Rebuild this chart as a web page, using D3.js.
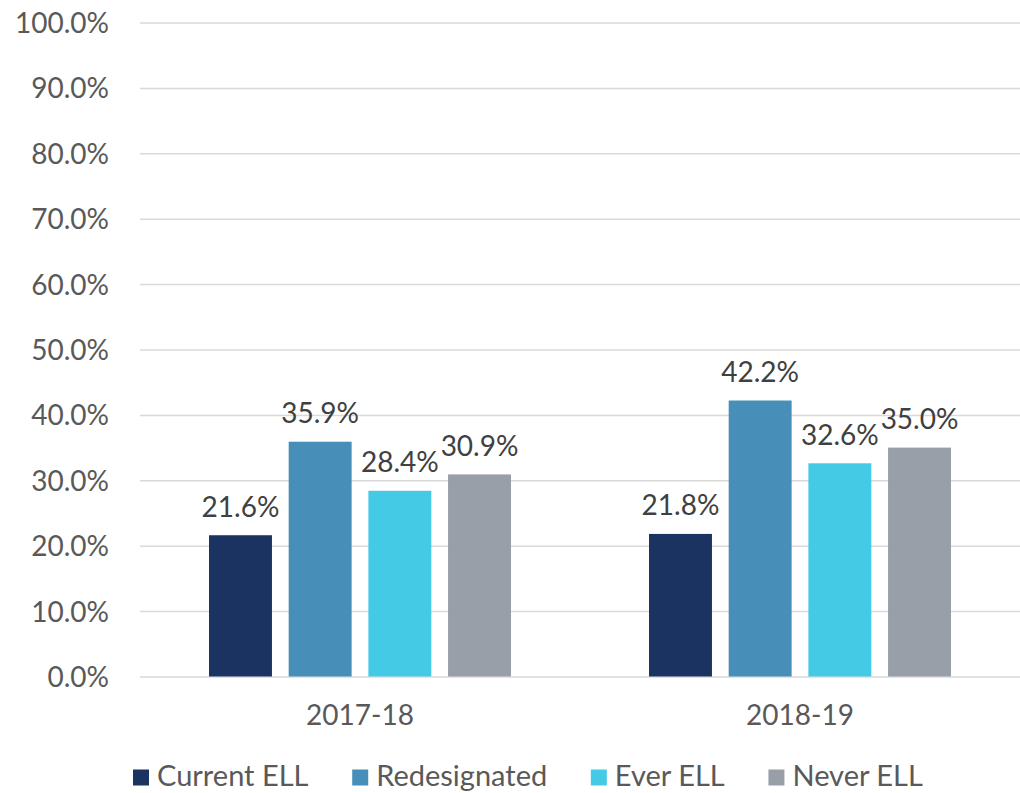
<!DOCTYPE html>
<html>
<head>
<meta charset="utf-8">
<script src="https://cdn.jsdelivr.net/npm/d3@7"></script>
<style>
  html, body { margin: 0; padding: 0; background: #ffffff; }
  svg { display: block; }
  text { font-family: Lato, "Open Sans", sans-serif; }
</style>
</head>
<body>
<svg id="chart" width="1020" height="793"></svg>
<script>
// School years on the x axis
const years = ["2017-18", "2018-19"];
// Student groups (one bar per group within each year)
const groups = ["Current ELL", "Redesignated", "Ever ELL", "Never ELL"];
// Percent values per group, in the order of years
const currentELL   = [21.6, 21.8];
const redesignated = [35.9, 42.2];
const everELL      = [28.4, 32.6];
const neverELL     = [30.9, 35.0];
// Y axis ticks
const yTicks = [0, 10, 20, 30, 40, 50, 60, 70, 80, 90, 100];
// Bar colours per group
const colors = ["#1b3360", "#478fb8", "#45cae6", "#989fa8"];

const seriesValues = [currentELL, redesignated, everELL, neverELL];

const svg = d3.select("#chart");
const margin = { left: 140, right: 0, top: 22.5, bottom: 116.5 };
const W = 1020, H = 793;
const plotBottom = H - margin.bottom;
const FONT = 28;

const y = d3.scaleLinear().domain([0, 100]).range([plotBottom, margin.top]);
const x0 = d3.scaleBand().domain(years).range([margin.left, W - margin.right]).paddingInner(0).paddingOuter(0);
const x1 = d3.scaleBand().domain(groups).range([0, x0.bandwidth()]).paddingInner(0.21).paddingOuter(0.866);

const fmt = v => v.toFixed(1) + "%";

// Gridlines
const grid = svg.append("g")
  .attr("transform", `translate(${margin.left},0)`)
  .call(d3.axisLeft(y).tickValues(yTicks).tickSize(-(W - margin.left - margin.right)).tickFormat(""));
grid.select(".domain").remove();
grid.selectAll(".tick line").attr("stroke", "#d9d9d9").attr("stroke-width", 1.5);

// Y axis labels
const yAxis = svg.append("g")
  .attr("transform", `translate(109,0)`)
  .call(d3.axisLeft(y).tickValues(yTicks).tickSize(0).tickPadding(0).tickFormat(fmt));
yAxis.select(".domain").remove();
yAxis.selectAll(".tick text")
  .attr("fill", "#595959")
  .style("font-size", FONT + "px")
  .style("font-family", "Lato, 'Open Sans', sans-serif")
  .attr("dy", "0.36em");

// X axis labels
const xAxis = svg.append("g")
  .attr("transform", `translate(0,${plotBottom})`)
  .call(d3.axisBottom(x0).tickSize(0).tickPadding(0));
xAxis.select(".domain").remove();
xAxis.selectAll(".tick text")
  .attr("fill", "#595959")
  .attr("y", 48.5)
  .attr("dy", 0)
  .style("font-size", FONT + "px")
  .style("font-family", "Lato, 'Open Sans', sans-serif");

// Bars and value labels
const rows = [];
years.forEach((yr, i) => {
  groups.forEach((g, j) => rows.push({ year: yr, group: g, value: seriesValues[j][i], color: colors[j] }));
});

const barG = svg.append("g");
barG.selectAll("rect")
  .data(rows)
  .join("rect")
  .attr("x", d => x0(d.year) + x1(d.group))
  .attr("width", x1.bandwidth())
  .attr("y", d => y(d.value))
  .attr("height", d => y(0) - y(d.value))
  .attr("fill", d => d.color);

barG.selectAll("text")
  .data(rows)
  .join("text")
  .attr("x", d => x0(d.year) + x1(d.group) + x1.bandwidth() / 2)
  .attr("y", d => y(d.value) - 18.5)
  .attr("text-anchor", "middle")
  .attr("fill", "#404040")
  .style("font-size", FONT + "px")
  .text(d => fmt(d.value));

// Legend: spread evenly across its row
const legend = svg.append("g");
const items = legend.selectAll("g").data(groups).join("g");
items.append("rect")
  .attr("width", 16).attr("height", 16)
  .attr("y", 769.5)
  .attr("fill", (d, i) => colors[i]);
items.append("text")
  .attr("x", 24)
  .attr("y", 786)
  .attr("fill", "#595959")
  .style("font-size", "29px")
  .text(d => d);

const widths = [];
items.each(function () { widths.push(this.getBBox().width); });
const legendLeft = 133, legendRight = 923;
const gap = (legendRight - legendLeft - d3.sum(widths)) / (widths.length - 1);
let cursor = legendLeft;
const positions = widths.map(w => { const p = cursor; cursor += w + gap; return p; });
items.attr("transform", (d, i) => `translate(${positions[i]},0)`);
</script>
</body>
</html>
